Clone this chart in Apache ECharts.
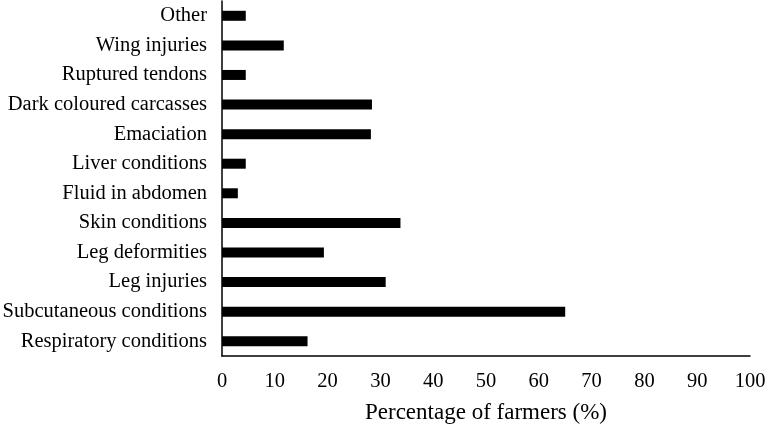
<!DOCTYPE html>
<html>
<head>
<meta charset="utf-8">
<script src="https://cdn.jsdelivr.net/npm/echarts@6/dist/echarts.min.js"></script>
<style>
html,body{margin:0;padding:0;background:#fff;}
#c{width:768px;height:426px;}
</style>
</head>
<body>
<div id="c"></div>
<script>
// categories listed bottom to top
const categories = [
  "Respiratory conditions",
  "Subcutaneous conditions",
  "Leg injuries",
  "Leg deformities",
  "Skin conditions",
  "Fluid in abdomen",
  "Liver conditions",
  "Emaciation",
  "Dark coloured carcasses",
  "Ruptured tendons",
  "Wing injuries",
  "Other"
];
const values = [16.2, 65.0, 31.0, 19.3, 33.8, 3.0, 4.5, 28.2, 28.4, 4.5, 11.7, 4.5];
const xTicks = { min: 0, max: 100, interval: 10 };
const xTitle = "Percentage of farmers (%)";

const font = "'Liberation Serif', 'Times New Roman', serif";
const chart = echarts.init(document.getElementById('c'));
chart.setOption({
  animation: false,
  grid: { left: 222, right: 18, top: 1, bottom: 70, containLabel: false, outerBoundsMode: 'none' },
  xAxis: {
    type: 'value',
    min: xTicks.min, max: xTicks.max, interval: xTicks.interval,
    name: xTitle,
    nameLocation: 'middle',
    nameGap: 45,
    nameTextStyle: { fontFamily: font, fontSize: 23, color: '#000' },
    axisLine: { show: true, lineStyle: { color: '#000', width: 1.5 } },
    axisTick: { show: false },
    splitLine: { show: false },
    axisLabel: { fontFamily: font, fontSize: 20.5, color: '#000', margin: 15 }
  },
  yAxis: {
    type: 'category',
    data: categories,
    axisLine: { show: true, lineStyle: { color: '#000', width: 1.5 } },
    axisTick: { show: false },
    axisLabel: { fontFamily: font, fontSize: 20.5, color: '#000', margin: 15 }
  },
  series: [{
    type: 'bar',
    data: values,
    barWidth: 10,
    itemStyle: { color: '#000' }
  }]
});
</script>
</body>
</html>
